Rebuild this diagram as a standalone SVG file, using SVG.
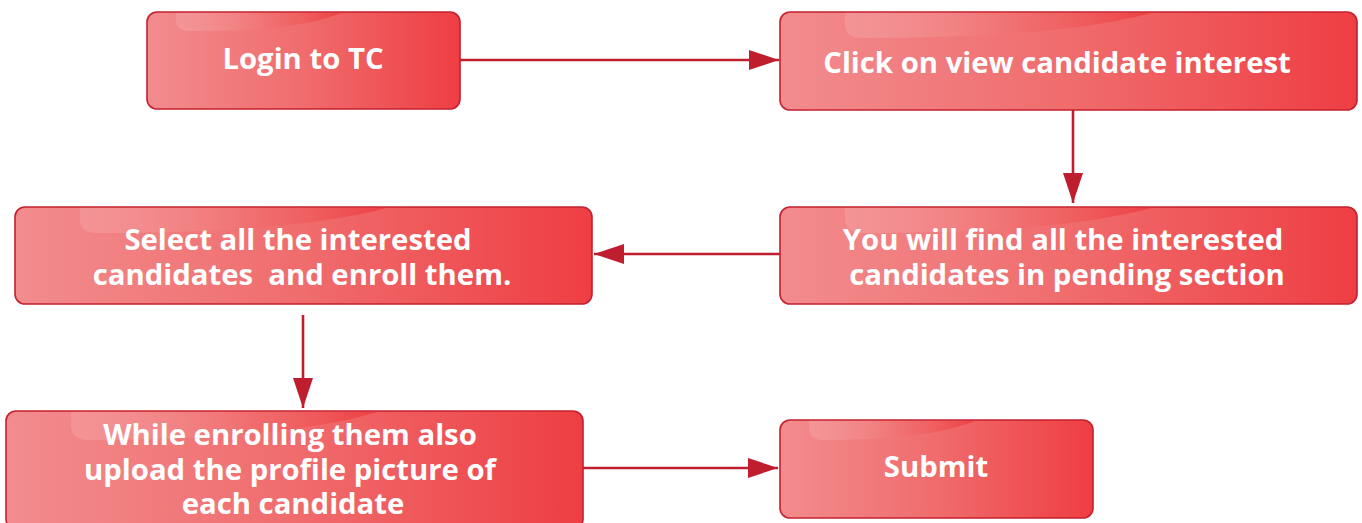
<svg xmlns="http://www.w3.org/2000/svg" width="1362" height="523" viewBox="0 0 1362 523">
<defs>
<linearGradient id="boxg" x1="0" y1="0" x2="1" y2="0">
<stop offset="0" stop-color="#F28C8E"/>
<stop offset="0.5" stop-color="#F06C6D"/>
<stop offset="1" stop-color="#EE3E43"/>
</linearGradient>
<linearGradient id="gloss" x1="0" y1="0" x2="1" y2="0">
<stop offset="0" stop-color="#FFFFFF" stop-opacity="0.12"/>
<stop offset="0.6" stop-color="#F06060" stop-opacity="0.3"/>
<stop offset="1" stop-color="#EC3A3E" stop-opacity="0.85"/>
</linearGradient>
<marker id="arr" viewBox="0 0 30 20" refX="30" refY="10" markerWidth="30" markerHeight="20" markerUnits="userSpaceOnUse" orient="auto">
<path d="M0,0 L30,10 L0,20 Z" fill="#BE1E2D"/>
</marker>
</defs>
<style>
.box{fill:url(#boxg);stroke:#C4202E;stroke-width:1.6}
.gl{fill:url(#gloss)}
.t{font-family:"Open Sans","DejaVu Sans",sans-serif;font-weight:700;font-size:29.3px;fill:#FFFFFF;text-anchor:middle}
.c{stroke:#BE1E2D;stroke-width:2.6;fill:none;marker-end:url(#arr)}
</style>
<rect width="1362" height="523" fill="#FFFFFF"/>
<g id="connectors">
<line class="c" x1="460" y1="60" x2="779" y2="60"/>
<line class="c" x1="1073" y1="110" x2="1073" y2="203"/>
<line class="c" x1="780" y1="254" x2="594" y2="254"/>
<line class="c" x1="303" y1="315" x2="303" y2="408"/>
<line class="c" x1="583" y1="468" x2="778" y2="468"/>
</g>
<g id="n1">
<rect class="box" x="147" y="12" width="313" height="97" rx="10"/>
<path class="gl" d="M176,12.8 L176,20 Q176,31 190,31 C260,31 310,26 342,12.8 Z"/>
<text class="t" x="303" y="69">Login to TC</text>
</g>
<g id="n2">
<rect class="box" x="780" y="12" width="577" height="98" rx="10"/>
<path class="gl" d="M845,12.8 L845,24 Q845,38 862,38 C990,38 1090,30 1152,12.8 Z"/>
<text class="t" x="1057" y="73">Click on view candidate interest</text>
</g>
<g id="n3">
<rect class="box" x="780" y="207" width="577" height="97" rx="10"/>
<path class="gl" d="M845,207.8 L845,219 Q845,233 862,233 C990,233 1090,225 1152,207.8 Z"/>
<text class="t" x="1063" y="250">You will find all the interested</text>
<text class="t" x="1067" y="285">candidates in pending section</text>
</g>
<g id="n4">
<rect class="box" x="15" y="207" width="577" height="97" rx="10"/>
<path class="gl" d="M80,207.8 L80,219 Q80,233 97,233 C225,233 325,225 387,207.8 Z"/>
<text class="t" x="298" y="250">Select all the interested</text>
<text class="t" x="302" y="285" xml:space="preserve">candidates  and enroll them.</text>
</g>
<g id="n5">
<rect class="box" x="6" y="411" width="577" height="118" rx="10"/>
<path class="gl" d="M71,411.8 L71,425 Q71,440 88,440 C216,440 316,431 378,411.8 Z"/>
<text class="t" x="290" y="445">While enrolling them also</text>
<text class="t" x="290" y="480">upload the profile picture of</text>
<text class="t" x="293" y="514">each candidate</text>
</g>
<g id="n6">
<rect class="box" x="780" y="420" width="313" height="98" rx="10"/>
<path class="gl" d="M809,420.8 L809,428 Q809,440 823,440 C893,440 943,434 975,420.8 Z"/>
<text class="t" x="936" y="477">Submit</text>
</g>
</svg>
